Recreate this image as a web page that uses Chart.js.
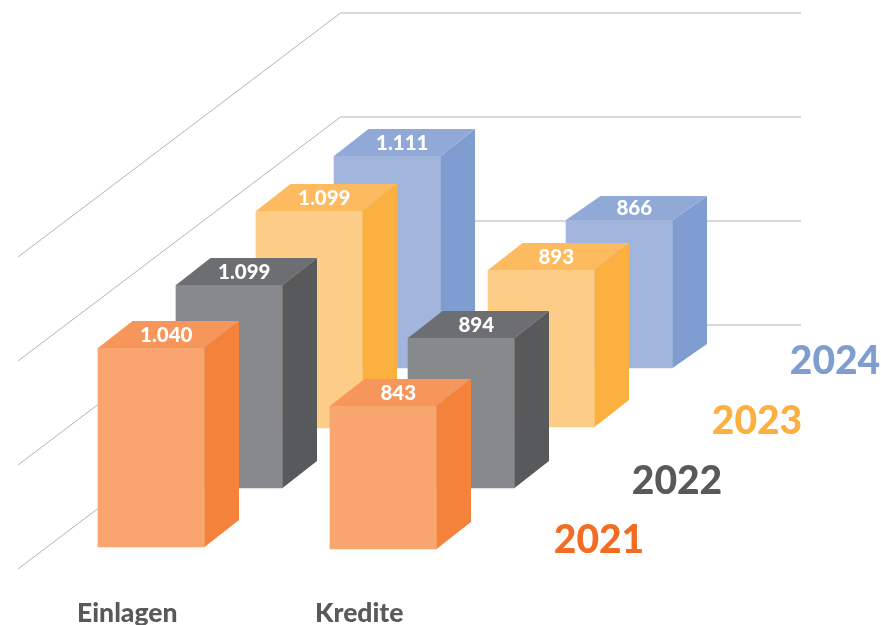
<!DOCTYPE html>
<html><head><meta charset="utf-8">
<style>html,body{margin:0;padding:0;background:#fff}canvas{display:block}</style>
<script src="https://cdn.jsdelivr.net/npm/chart.js@4"></script>
</head><body><canvas id="c" width="881" height="625"></canvas>
<script>
const categories = ["Einlagen", "Kredite"];
const years = ["2021", "2022", "2023", "2024"];
const einlagen = [1040, 1099, 1099, 1111];
const kredite = [843, 894, 893, 866];
const valueLabels = { Einlagen: ["1.040","1.099","1.099","1.111"], Kredite: ["843","894","893","866"] };
const gridValues = [0, 400, 800, 1200];

// Look of the 3D drawing: the source picture is a non-proportional infographic,
// so each bar has its own hidden value axis and depth offset.
const AREA_H = 547, BAR_W = 106.5, SIDE_X = 34.5;
const sideY = { Einlagen: [27, 27, 27, 27], Kredite: [27, 27, 27, 24] };
const depthX = [0, 78, 158, 236];
const depthY = { Einlagen: [0, -59, -119, -179], Kredite: [2, -59, -120, -179] };
const barPx = { Einlagen: [199, 203, 217, 212], Kredite: [143, 150, 157, 148] };
const frontColors = ["#F8A56F", "#88898C", "#FDCC87", "#A2B6DD"];
const topColors   = ["#F6965A", "#6D6E71", "#FDBA5E", "#90A9D7"];
const sideColors  = ["#F5823B", "#58595B", "#FBB040", "#7F9DD1"];
const yearColors  = ["#F36C24", "#58595B", "#FBB040", "#7F9DD1"];
const GRID_PX_PER_UNIT = 0.26, GRID = {left: 18, backX: 340.5, right: 801, front: 22, back: -222, color: "#B4B4B4"};
const FONT = "Lato";

const datasets = [], scales = {
  x: { type: "category", grid: {display: false, drawTicks: false}, border: {display: false},
       afterFit(s){ s.height = 625 - AREA_H; },
       ticks: { labelOffset: -24, padding: 51, maxRotation: 0, autoSkip: false, color: "#58595B",
                font: {family: FONT, size: 26.5, weight: "900"} } },
  yGrid: { type: "linear", display: false, min: 0, max: AREA_H / GRID_PX_PER_UNIT }
};
years.forEach((year, i) => {
  categories.forEach((cat, c) => {
    const v = (c === 0 ? einlagen : kredite)[i];
    const id = "y" + i + c;
    scales[id] = { type: "linear", display: false, min: 0, max: v * AREA_H / barPx[cat][i] };
    datasets.push({
      label: year + " " + cat, yAxisID: id, grouped: false, barThickness: BAR_W, clip: false,
      data: c === 0 ? [v, null] : [null, v], backgroundColor: frontColors[i], borderWidth: 0,
      _i: i, _cat: cat
    });
  });
});

const depthPlugin = {
  id: "depth",
  beforeDatasetsDraw(chart) {
    const ctx = chart.ctx, s = chart.scales.yGrid;
    ctx.save();
    ctx.strokeStyle = GRID.color; ctx.lineWidth = 1;
    gridValues.forEach(v => {
      const y = s.getPixelForValue(v);
      ctx.beginPath();
      ctx.moveTo(GRID.left, y + GRID.front);
      ctx.lineTo(GRID.backX, y + GRID.back);
      ctx.lineTo(GRID.right, y + GRID.back);
      ctx.stroke();
    });
    ctx.restore();
  },
  beforeDatasetDraw(chart, args) {
    const d = chart.data.datasets[args.index];
    chart.ctx.save();
    chart.ctx.translate(depthX[d._i], depthY[d._cat][d._i]);
  },
  afterDatasetDraw(chart, args) {
    const d = chart.data.datasets[args.index], ctx = chart.ctx;
    const sy = sideY[d._cat][d._i];
    args.meta.data.forEach((b, k) => {
      if (d.data[k] == null) return;
      const l = b.x - b.width / 2, r = b.x + b.width / 2, t = b.y, bt = b.base;
      ctx.fillStyle = sideColors[d._i];
      ctx.beginPath(); ctx.moveTo(r, t); ctx.lineTo(r + SIDE_X, t - sy);
      ctx.lineTo(r + SIDE_X, bt - sy); ctx.lineTo(r, bt); ctx.closePath(); ctx.fill();
      ctx.fillStyle = topColors[d._i];
      ctx.beginPath(); ctx.moveTo(l, t); ctx.lineTo(l + SIDE_X, t - sy);
      ctx.lineTo(r + SIDE_X, t - sy); ctx.lineTo(r, t); ctx.closePath(); ctx.fill();
      ctx.fillStyle = "#fff"; ctx.font = "900 20.5px " + FONT;
      ctx.textAlign = "center"; ctx.textBaseline = "middle";
      ctx.fillText(valueLabels[d._cat][d._i], b.x + 15, t - sy / 2 + 0.5);
    });
    ctx.restore();
  },
  afterDatasetsDraw(chart) {
    const ctx = chart.ctx;
    ctx.save();
    ctx.font = "900 39px " + FONT; ctx.textAlign = "center"; ctx.textBaseline = "middle";
    years.forEach((year, i) => {
      ctx.fillStyle = yearColors[i];
      ctx.fillText(year, 599 + depthX[i], 540 + depthY.Einlagen[i]);
    });
    ctx.restore();
  }
};

new Chart(document.getElementById("c"), {
  type: "bar",
  data: { labels: categories, datasets },
  options: {
    responsive: false, animation: false,
    layout: { padding: { left: 35.25, right: 381.75, top: 0, bottom: 0 } },
    plugins: { legend: {display: false}, title: {display: false}, tooltip: {enabled: false} },
    scales
  },
  plugins: [depthPlugin]
});
</script></body></html>
